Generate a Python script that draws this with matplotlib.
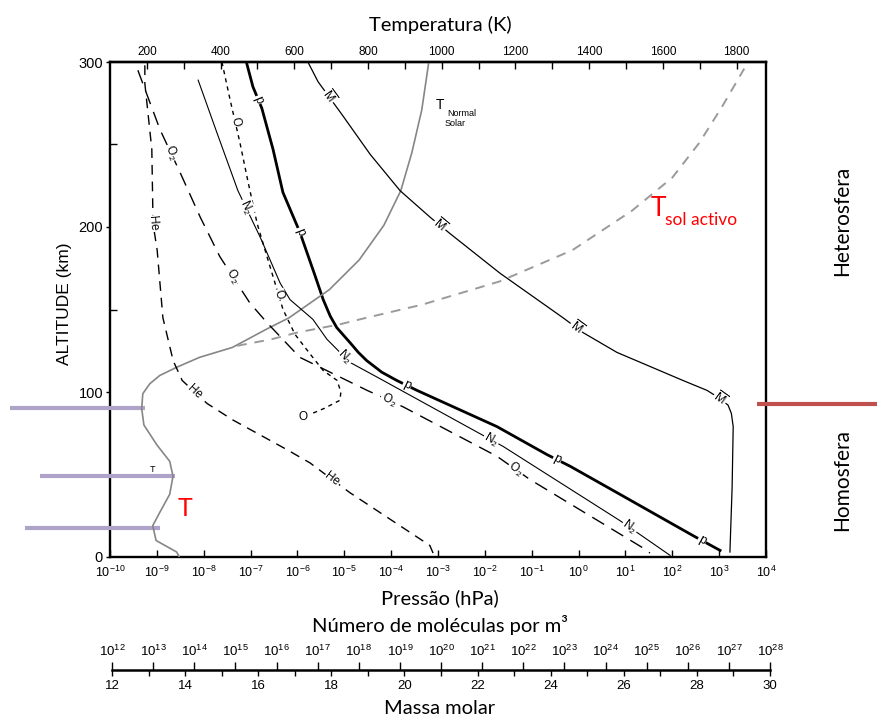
import numpy as np
import matplotlib.pyplot as plt
from matplotlib.ticker import FixedLocator, LogFormatterMathtext, MultipleLocator, NullLocator
from matplotlib.transforms import IdentityTransform, blended_transform_factory

plt.rcParams['font.family'] = ['Liberation Sans', 'DejaVu Sans']
plt.rcParams['mathtext.fontset'] = 'custom'
plt.rcParams['mathtext.rm'] = 'Liberation Sans'
plt.rcParams['mathtext.it'] = 'Liberation Sans:italic'
plt.rcParams['mathtext.bf'] = 'Liberation Sans:bold'

TITLE_FONT = ['Lato', 'DejaVu Sans']

# ---- values (altitude in km) ----
# total pressure, hPa (log10)
p_alt = [300, 285, 272, 247, 221, 197, 171, 156, 146, 139, 130, 124, 119, 112, 107, 101, 79, 62,
         55, 39, 13, 4]
p_log = [-7.09, -6.95, -6.76, -6.52, -6.31, -5.95, -5.63, -5.45, -5.30, -5.16, -4.88, -4.70,
         -4.52, -4.20, -3.88, -3.45, -1.74, -0.67, -0.18, 0.82, 2.44, 3.02]

# number densities, molecules per m^3 (log10)
n2_alt = [289, 257, 222, 194, 166, 156, 144, 132, 118, 108, 67, 22, 1]
n2_log = [14.15, 14.61, 15.12, 15.66, 16.15, 16.39, 16.95, 17.29, 17.85, 18.59, 21.59, 24.44, 25.66]

o2_alt = [295, 259, 233, 206, 182, 154, 142, 121, 101, 91, 61, 47, 5.5, 2.4]
o2_log = [12.68, 13.22, 13.71, 14.20, 14.68, 15.41, 15.83, 16.63, 18.27, 19.15, 21.44, 22.24, 25.0, 25.17]

he_alt = [298, 287, 247, 202, 186, 145, 119, 107, 93, 83, 65, 57, 39, 7, 2.4]
he_log = [12.85, 12.85, 13.02, 13.05, 13.15, 13.29, 13.54, 13.76, 14.37, 15.0, 16.32, 16.88, 17.85, 19.80, 19.88]

o_alt = [300, 277, 251, 227, 202, 182, 150, 135, 124, 113, 107, 100, 95, 90, 87]
o_log = [14.73, 14.93, 15.17, 15.37, 15.59, 15.83, 16.22, 16.51, 16.85, 17.20, 17.54, 17.63,
         17.61, 17.22, 16.93]

# mean molar mass
mbar_alt = [300, 288, 268, 244, 222, 206, 196, 172, 145, 136, 124, 107, 101, 96, 92, 87, 79, 42, 3]
mbar_val = [17.43, 17.71, 18.37, 19.14, 19.96, 20.78, 21.33, 22.70, 24.43, 24.98, 25.91, 27.72,
            28.38, 28.74, 28.96, 29.05, 29.10, 29.07, 29.01]

# temperature, K
t_norm_alt = [0, 3, 10, 19, 27, 38, 49, 58, 68, 80, 90, 99, 105, 110, 115, 121, 127, 138, 145,
              162, 180, 201, 222, 245, 271, 300]
t_norm_k = [288, 281, 225, 216, 235, 262, 271, 262, 227, 192, 186, 189, 208, 235, 281, 343, 432,
            524, 586, 695, 776, 843, 889, 919, 946, 965]

t_act_alt = [128, 132, 136, 141, 145, 149, 153, 167, 186, 210, 230, 251, 273, 296]
t_act_k = [445, 539, 607, 723, 796, 872, 948, 1157, 1355, 1517, 1626, 1699, 1761, 1821]

# layer boundaries (km)
purple_alts = [90.3, 49.1, 17.6]
hetero_alt = 92.7

p_hpa = 10.0 ** np.array(p_log)
n2 = 10.0 ** np.array(n2_log)
o2 = 10.0 ** np.array(o2_log)
he = 10.0 ** np.array(he_log)
o_n = 10.0 ** np.array(o_log)

fig = plt.figure(figsize=(8.77, 7.18), dpi=100)
L, B, W, H = 110 / 877, 1 - 557 / 718, 656 / 877, 495 / 718


def px(x, y):
    return x / 877, 1 - y / 718


# main axes: pressure vs altitude
ax = fig.add_axes([L, B, W, H])
ax.set_xscale('log')
ax.set_xlim(1e-10, 1e4)
ax.set_ylim(0, 300)
ax.xaxis.set_major_locator(FixedLocator(10.0 ** np.arange(-10, 5)))
ax.xaxis.set_minor_locator(NullLocator())
ax.xaxis.set_major_formatter(LogFormatterMathtext())
ax.tick_params(axis='x', direction='in', length=5, width=1, labelsize=9, pad=5.5)
ax.set_yticks([0, 100, 200, 300])
ax.yaxis.set_minor_locator(MultipleLocator(50))
ax.tick_params(axis='y', which='major', direction='out', length=3, width=1, labelsize=10.5, pad=2)
ax.tick_params(axis='y', which='minor', direction='in', length=5, width=1)
for s in ax.spines.values():
    s.set_linewidth(1.7)

# temperature axis on top
ax_t = ax.twiny()
ax_t.set_xlim(100, 1880)
ax_t.set_xticks(range(200, 1801, 200))
ax_t.xaxis.set_minor_locator(FixedLocator(range(300, 1900, 200)))
ax_t.tick_params(axis='x', which='both', direction='in', length=5, width=1, labelsize=8.5, pad=3)
for k in ['bottom', 'left', 'right']:
    ax_t.spines[k].set_visible(False)
ax_t.spines['top'].set_linewidth(1.7)

# overlays for densities and molar mass (same box)
ax_n = ax.twiny()
ax_n.set_xscale('log')
ax_n.set_xlim(1e12, 1e28)
ax_n.axis('off')
ax_m = ax.twiny()
ax_m.set_xlim(12, 30)
ax_m.axis('off')

# curves
ax.plot(p_hpa, p_alt, color='black', lw=2.0)
ax_n.plot(n2, n2_alt, color='black', lw=0.8)
ax_n.plot(o2, o2_alt, color='black', lw=1.0, dashes=(10, 6))
ax_n.plot(he, he_alt, color='black', lw=1.0, dashes=(7, 5))
ax_n.plot(o_n, o_alt, color='black', lw=1.0, dashes=(3, 3))
ax_m.plot(mbar_val, mbar_alt, color='black', lw=0.9)
ax_t.plot(t_norm_k, t_norm_alt, color='#868686', lw=1.2)
ax_t.plot(t_act_k, t_act_alt, color='#9a9a9a', lw=1.4, dashes=(5, 4))


def curve_label(axis, xs, alts, alt0, text, size=8.5):
    pts = axis.transData.transform(np.column_stack([xs, alts]))
    order = np.argsort(pts[:, 1])
    qx, qy = pts[order, 0], pts[order, 1]
    y0 = axis.transData.transform((xs[0], alt0))[1]
    x0 = np.interp(y0, qy, qx)
    x1 = np.interp(y0 + 5, qy, qx)
    x2 = np.interp(y0 - 5, qy, qx)
    ang = np.degrees(np.arctan2(-10, x2 - x1))
    axis.text(x0, y0, text, transform=IdentityTransform(), rotation=ang,
              rotation_mode='anchor', ha='center', va='center', fontsize=size,
              bbox=dict(facecolor='white', edgecolor='none', pad=0.6), zorder=5)


for a in [277, 197, 104, 59, 10]:
    curve_label(ax, p_hpa, p_alt, a, 'p', 9)
for a in [212, 121, 71, 18]:
    curve_label(ax_n, n2, n2_alt, a, r'N$_2$')
for a in [245, 170, 95, 53]:
    curve_label(ax_n, o2, o2_alt, a, r'O$_2$')
for a in [202, 100, 47]:
    curve_label(ax_n, he, he_alt, a, 'He')
for a in [264, 159]:
    curve_label(ax_n, o_n, o_alt, a, 'O')
for a in [279, 201, 139, 96]:
    curve_label(ax_m, mbar_val, mbar_alt, a, r'$\overline{\mathrm{M}}$', 9)
fig.text(*px(303, 417), 'O', fontsize=8.5, ha='center', va='center')

# T labels
fig.text(*px(440, 105), 'T', fontsize=10, ha='center', va='center')
fig.text(*px(447, 114), 'Normal', fontsize=6.5, ha='left', va='center')
fig.text(*px(445, 124), 'Solar', fontsize=6.5, ha='left', va='center')
fig.text(*px(152, 470), 'T', fontsize=6.5, ha='center', va='center')
fig.text(*px(185, 509), 'T', fontsize=18, color='red', ha='center', va='center', family=TITLE_FONT)
fig.text(*px(658, 208), 'T', fontsize=19, color='red', ha='center', va='center', family=TITLE_FONT)
fig.text(*px(665, 220), 'sol activo', fontsize=12.5, color='red', ha='left', va='center',
         family=TITLE_FONT)

# layer markers
tr = blended_transform_factory(fig.transFigure, ax.transData)
for alt0, (x0, x1) in zip(purple_alts, [(10, 145), (40, 175), (25, 160)]):
    ax.plot([x0 / 877, x1 / 877], [alt0, alt0], color='#b0a3c9', lw=3, transform=tr,
            clip_on=False, solid_capstyle='butt', zorder=10)
ax.plot([757 / 877, 1.0], [hetero_alt, hetero_alt], color='#c0504d', lw=3, transform=tr,
        clip_on=False, solid_capstyle='butt', zorder=10)

fig.text(*px(842, 221), 'Heterosfera', rotation=90, fontsize=15, ha='center', va='center',
         family=TITLE_FONT)
fig.text(*px(842, 480), 'Homosfera', rotation=90, fontsize=15, ha='center', va='center',
         family=TITLE_FONT)

# axis titles
fig.text(*px(64, 304), 'ALTITUDE (km)', rotation=90, fontsize=12.5, ha='center', va='center')
fig.text(*px(440, 25), 'Temperatura (K)', fontsize=14.5, ha='center', va='center', family=TITLE_FONT)
fig.text(*px(440, 598), 'Pressão (hPa)', fontsize=14.5, ha='center', va='center', family=TITLE_FONT)
fig.text(*px(440, 625), 'Número de moléculas por m³', fontsize=14.5, ha='center', va='center',
         family=TITLE_FONT)
fig.text(*px(440, 708), 'Massa molar', fontsize=14.5, ha='center', va='center', family=TITLE_FONT)

# density / molar mass scale
ax_b = fig.add_axes([112 / 877, 1 - 670 / 718, 658 / 877, 1e-5])
ax_b.set_xlim(12, 30)
ax_b.set_xticks(range(12, 31, 2))
ax_b.xaxis.set_minor_locator(FixedLocator(range(13, 30, 2)))
ax_b.tick_params(axis='x', which='both', direction='out', length=4, width=1, labelsize=9.5, pad=3)
ax_b.set_yticks([])
for k in ['top', 'left', 'right']:
    ax_b.spines[k].set_visible(False)
ax_b.spines['bottom'].set_linewidth(1.8)
ax_d = ax_b.twiny()
ax_d.set_xscale('log')
ax_d.set_xlim(1e12, 1e28)
ax_d.xaxis.set_major_locator(FixedLocator(10.0 ** np.arange(12, 29)))
ax_d.xaxis.set_minor_locator(NullLocator())
ax_d.xaxis.set_major_formatter(LogFormatterMathtext())
ax_d.tick_params(axis='x', direction='out', length=6, width=1, labelsize=9.5, pad=2)
ax_d.set_yticks([])
for k in ['bottom', 'left', 'right', 'top']:
    ax_d.spines[k].set_visible(False)

fig.savefig('out.png', dpi=100)
